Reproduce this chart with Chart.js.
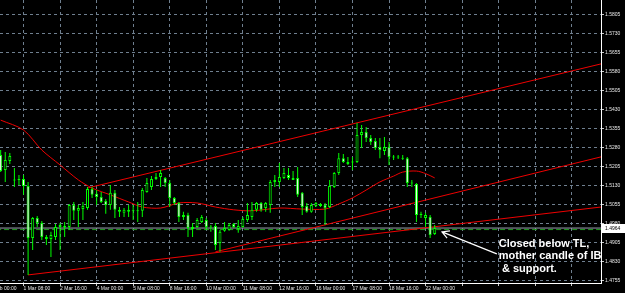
<!DOCTYPE html>
<html lang="en">
<head>
<meta charset="UTF-8">
<title>EURUSD H4</title>
<script src="https://cdn.jsdelivr.net/npm/chart.js"></script>
<style>
  html, body { margin: 0; padding: 0; background: #000; }
  #wrap { width: 625px; height: 293px; }
</style>
</head>
<body>
<div id="wrap"><canvas id="chart"></canvas></div>
<script>
// H4 candles, bar 0 is the first bar at the left edge
const opens = [1.5252, 1.5193, 1.5229, 1.5154, 1.5154, 1.5158, 1.5130, 1.4925, 1.5004, 1.4984,
  1.4929, 1.4921, 1.4929, 1.4968, 1.4972, 1.4968, 1.5055, 1.5032, 1.5039, 1.5043,
  1.5118, 1.5099, 1.5087, 1.5071, 1.5055, 1.5103, 1.5036, 1.5024, 1.5036, 1.5032,
  1.5030, 1.5032, 1.5106, 1.5126, 1.5158, 1.5166, 1.5162, 1.5142, 1.5083, 1.5063,
  1.5008, 1.5016, 1.4960, 1.4968, 1.4988, 1.4996, 1.4968, 1.4972, 1.4905, 1.4953,
  1.4956, 1.4980, 1.4960, 1.4968, 1.4996, 1.5008, 1.5036, 1.5063, 1.5043, 1.5055,
  1.5146, 1.5146, 1.5162, 1.5173, 1.5162, 1.5162, 1.5103, 1.5051, 1.5028, 1.5051,
  1.5059, 1.5055, 1.5047, 1.5126, 1.5181, 1.5240, 1.5225, 1.5225, 1.5225, 1.5331,
  1.5343, 1.5319, 1.5308, 1.5284, 1.5268, 1.5284, 1.5244, 1.5242, 1.5240, 1.5240,
  1.5142, 1.5138, 1.5016, 1.5004, 1.5008, 1.4941];
const highs = [1.5272, 1.5264, 1.5260, 1.5201, 1.5173, 1.5173, 1.5146, 1.5008, 1.5012, 1.4992,
  1.4937, 1.4949, 1.4980, 1.4984, 1.4988, 1.5059, 1.5067, 1.5055, 1.5067, 1.5126,
  1.5126, 1.5114, 1.5106, 1.5079, 1.5134, 1.5114, 1.5047, 1.5043, 1.5055, 1.5055,
  1.5067, 1.5122, 1.5162, 1.5169, 1.5181, 1.5193, 1.5166, 1.5154, 1.5087, 1.5067,
  1.5028, 1.5024, 1.4984, 1.5004, 1.5016, 1.5004, 1.4976, 1.4984, 1.4956, 1.4988,
  1.4984, 1.4984, 1.4996, 1.5008, 1.5063, 1.5067, 1.5067, 1.5067, 1.5067, 1.5154,
  1.5173, 1.5221, 1.5201, 1.5201, 1.5189, 1.5205, 1.5106, 1.5063, 1.5063, 1.5067,
  1.5063, 1.5063, 1.5154, 1.5185, 1.5260, 1.5256, 1.5244, 1.5244, 1.5379, 1.5371,
  1.5363, 1.5331, 1.5319, 1.5319, 1.5323, 1.5304, 1.5252, 1.5252, 1.5252, 1.5244,
  1.5154, 1.5142, 1.5028, 1.5024, 1.5016, 1.4976];
const lows = [1.5185, 1.5146, 1.5217, 1.5126, 1.5134, 1.5095, 1.4779, 1.4877, 1.4968, 1.4917,
  1.4897, 1.4850, 1.4917, 1.4877, 1.4929, 1.4956, 1.4996, 1.4968, 1.4996, 1.5036,
  1.5083, 1.5055, 1.5063, 1.5020, 1.5036, 1.5004, 1.5008, 1.5008, 1.5008, 1.4996,
  1.4988, 1.5008, 1.5103, 1.5114, 1.5154, 1.5126, 1.5126, 1.5047, 1.5055, 1.4988,
  1.4996, 1.4929, 1.4929, 1.4964, 1.4984, 1.4956, 1.4949, 1.4877, 1.4870, 1.4949,
  1.4953, 1.4964, 1.4945, 1.4966, 1.4988, 1.4996, 1.5028, 1.5028, 1.5028, 1.5024,
  1.5126, 1.5126, 1.5158, 1.5154, 1.5154, 1.5087, 1.5016, 1.5024, 1.5024, 1.5047,
  1.5047, 1.4976, 1.5043, 1.5122, 1.5173, 1.5221, 1.5213, 1.5193, 1.5221, 1.5280,
  1.5304, 1.5292, 1.5272, 1.5240, 1.5252, 1.5213, 1.5233, 1.5237, 1.5233, 1.5126,
  1.5126, 1.4988, 1.5004, 1.4968, 1.4925, 1.4937];
const closes = [1.5189, 1.5233, 1.5248, 1.5152, 1.5156, 1.5130, 1.4925, 1.5004, 1.4984, 1.4929,
  1.4921, 1.4937, 1.4968, 1.4976, 1.4966, 1.5055, 1.5032, 1.5043, 1.5051, 1.5118,
  1.5095, 1.5087, 1.5067, 1.5055, 1.5103, 1.5036, 1.5028, 1.5036, 1.5028, 1.5030,
  1.5032, 1.5114, 1.5142, 1.5158, 1.5166, 1.5181, 1.5142, 1.5083, 1.5063, 1.5008,
  1.5016, 1.4964, 1.4968, 1.4996, 1.5008, 1.4968, 1.4966, 1.4897, 1.4949, 1.4964,
  1.4976, 1.4968, 1.4972, 1.5000, 1.5016, 1.5036, 1.5063, 1.5036, 1.5063, 1.5146,
  1.5154, 1.5166, 1.5181, 1.5162, 1.5154, 1.5095, 1.5047, 1.5028, 1.5055, 1.5063,
  1.5051, 1.5043, 1.5130, 1.5181, 1.5240, 1.5225, 1.5217, 1.5223, 1.5331, 1.5343,
  1.5319, 1.5304, 1.5280, 1.5272, 1.5284, 1.5244, 1.5242, 1.5244, 1.5238, 1.5142,
  1.5140, 1.5016, 1.5018, 1.5016, 1.4937, 1.4964];

// moving average, read at these bars
const maBars = [0, 5, 9, 13, 17, 20, 24, 28, 31, 35, 39, 43, 47, 51, 55, 61, 66, 71, 74, 77, 80, 83, 86, 88, 91, 93, 95];
const maVals = [1.5390, 1.5351, 1.5272, 1.5213, 1.5154, 1.5122, 1.5095, 1.5067, 1.5047, 1.5043,
  1.5063, 1.5063, 1.5047, 1.5036, 1.5032, 1.5043, 1.5039, 1.5039, 1.5059, 1.5083,
  1.5114, 1.5146, 1.5169, 1.5185, 1.5189, 1.5179, 1.5162];

// trend lines: [start bar, start price, end bar, end price]
const upperTL = [19, 1.5122, 131.4, 1.5612];
const longTL = [6, 1.4779, 131.4, 1.5047];
const lowerTL = [47, 1.4870, 131.4, 1.5245];

const bidPrice = 1.4964;
const supportLevel = 1.4958;

// axes
const timeTickBars = [-3, 5, 13, 21, 29, 37, 45, 53, 61, 69, 77, 85, 93, 101, 109, 117, 125];
const timeTickLabels = ['26 Feb 00:00', '1 Mar 08:00', '2 Mar 16:00', '4 Mar 00:00', '5 Mar 08:00',
  '8 Mar 16:00', '10 Mar 00:00', '11 Mar 08:00', '12 Mar 16:00', '16 Mar 00:00', '17 Mar 08:00',
  '18 Mar 16:00', '22 Mar 00:00', '', '', '', ''];
const priceTicks = [1.4755, 1.4830, 1.4905, 1.4980, 1.5055, 1.5130, 1.5205, 1.5280, 1.5355,
  1.5430, 1.5505, 1.5580, 1.5655, 1.5730, 1.5805];

const noteLines = ['Closed below TL,', 'mother candle of IB', ' & support.'];

const bodies = opens.map((o, i) => ({ x: i, y: [o, closes[i]] }));
const wicks = lows.map((l, i) => ({ x: i, y: [l, highs[i]] }));
const bodyFill = opens.map((o, i) => closes[i] < o ? '#ffffff' : '#000000');
const ma = maBars.map((b, i) => ({ x: b, y: maVals[i] }));
const tl = a => [{ x: a[0], y: a[1] }, { x: a[2], y: a[3] }];

const overlay = {
  id: 'overlay',
  afterDraw(chart) {
    const { ctx, chartArea, scales: { x, y } } = chart;
    ctx.save();
    // bid price box on the price scale
    const by = Math.round(y.getPixelForValue(bidPrice)) + 0.5;
    ctx.fillStyle = '#ffffff';
    ctx.fillRect(chartArea.right + 1, by - 4.5, 23, 9);
    ctx.fillStyle = '#000000';
    ctx.font = '5px "Liberation Sans", Arial, sans-serif';
    ctx.textBaseline = 'middle';
    ctx.fillText(bidPrice.toFixed(4), chartArea.right + 4, by);

    // arrow pointing at the last candle
    const tipX = x.getPixelForValue(96.6), tipY = y.getPixelForValue(1.4949);
    const tailX = x.getPixelForValue(108.6), tailY = y.getPixelForValue(1.4862);
    ctx.strokeStyle = '#ffffff';
    ctx.lineWidth = 1.2;
    ctx.beginPath();
    ctx.moveTo(tailX, tailY);
    ctx.lineTo(tipX, tipY);
    const ang = Math.atan2(tailY - tipY, tailX - tipX);
    ctx.moveTo(tipX + 8 * Math.cos(ang + 0.5), tipY + 8 * Math.sin(ang + 0.5));
    ctx.lineTo(tipX, tipY);
    ctx.lineTo(tipX + 8 * Math.cos(ang - 0.5), tipY + 8 * Math.sin(ang - 0.5));
    ctx.stroke();

    ctx.fillStyle = '#ffffff';
    ctx.font = 'bold 11px "Liberation Sans", Arial, sans-serif';
    ctx.textBaseline = 'alphabetic';
    noteLines.forEach((t, i) => ctx.fillText(t, tailX + 2, tailY - 7 + i * 12.5));
    ctx.restore();
  }
};

new Chart(document.getElementById('chart'), {
  type: 'bar',
  data: {
    datasets: [
      { data: bodies, backgroundColor: bodyFill, borderColor: '#00ff00', borderWidth: 1,
        borderSkipped: false, barThickness: 3, grouped: false, minBarLength: 1, inflateAmount: 0, order: 0 },
      { data: wicks, backgroundColor: '#00ff00', borderWidth: 0, barThickness: 1,
        grouped: false, inflateAmount: 0, order: 1 },
      { type: 'line', data: ma, borderColor: '#ee0000', borderWidth: 1, pointRadius: 0, tension: 0.3, order: 2 },
      { type: 'line', data: tl(upperTL), borderColor: '#ee0000', borderWidth: 1, pointRadius: 0, order: 2 },
      { type: 'line', data: tl(longTL), borderColor: '#ee0000', borderWidth: 1, pointRadius: 0, order: 2 },
      { type: 'line', data: tl(lowerTL), borderColor: '#ee0000', borderWidth: 1, pointRadius: 0, order: 2 },
      { type: 'line', data: [{ x: -1, y: bidPrice }, { x: 140, y: bidPrice }], borderColor: '#9aa4ae',
        borderWidth: 1, pointRadius: 0, order: 3 },
      { type: 'line', data: [{ x: -1, y: supportLevel }, { x: 140, y: supportLevel }], borderColor: '#1f9a1f',
        borderWidth: 1, borderDash: [5, 3], pointRadius: 0, order: 3 }
    ]
  },
  options: {
    responsive: true,
    maintainAspectRatio: false,
    devicePixelRatio: 1,
    animation: false,
    layout: { padding: 0 },
    plugins: { legend: { display: false }, tooltip: { enabled: false } },
    scales: {
      x: {
        type: 'linear',
        min: -0.15,
        max: 131.4,
        offset: false,
        afterBuildTicks: s => { s.ticks = timeTickBars.map(v => ({ value: v })); },
        afterFit: s => { s.height = 10; s.paddingLeft = 0; s.paddingRight = 0; },
        grid: { color: '#6f7f8f', lineWidth: 1, offset: false, tickLength: 3, tickColor: '#cccccc' },
        border: { display: true, color: '#ffffff', width: 1, dash: [3, 3] },
        ticks: {
          autoSkip: false, maxRotation: 0, minRotation: 0, align: 'start', padding: 0,
          color: '#e8e8e8', font: { family: '"Liberation Sans", Arial, sans-serif', size: 5 },
          callback: (v, i) => timeTickLabels[i]
        }
      },
      y: {
        position: 'right',
        min: 1.47471,
        max: 1.58642,
        afterBuildTicks: s => { s.ticks = priceTicks.map(v => ({ value: v })); },
        afterFit: s => { s.width = 24; s.paddingTop = 0; s.paddingBottom = 0; },
        grid: { color: '#6f7f8f', lineWidth: 1, tickLength: 3, tickColor: '#cccccc' },
        border: { display: true, color: '#ffffff', width: 1, dash: [3, 3] },
        ticks: {
          padding: 1, color: '#e8e8e8',
          font: { family: '"Liberation Sans", Arial, sans-serif', size: 5 },
          callback: v => v.toFixed(4)
        }
      }
    }
  },
  plugins: [overlay]
});
</script>
</body>
</html>
